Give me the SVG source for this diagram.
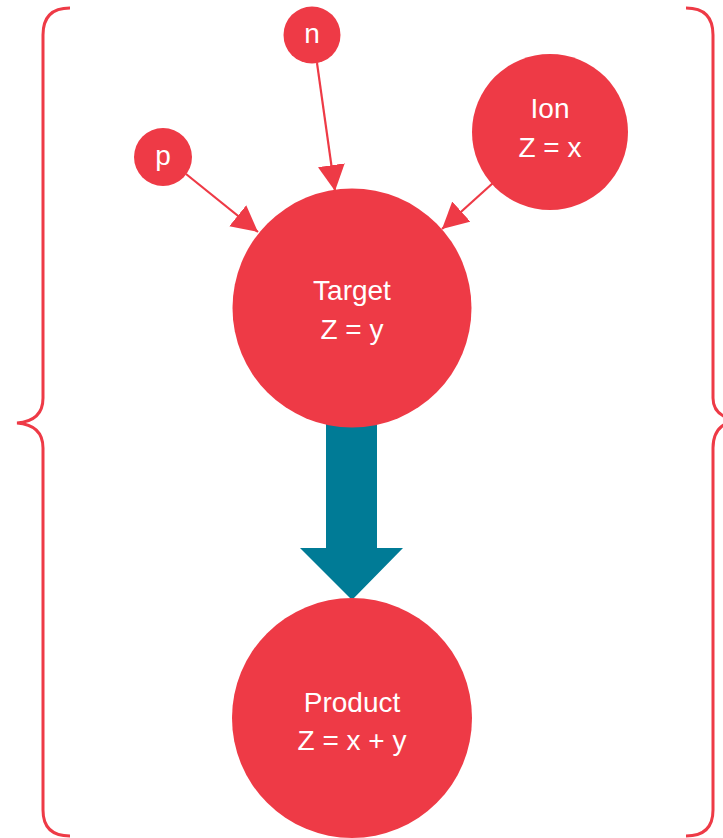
<svg xmlns="http://www.w3.org/2000/svg" width="723" height="838" viewBox="0 0 723 838">
<style>
.node{fill:#EE3A46}
.lbl{fill:#fff;font-family:"Liberation Sans",Arial,sans-serif;font-size:28px;text-anchor:middle}
.brace{fill:none;stroke:#EE3A46;stroke-width:3}
.conn{stroke:#EE3A46;stroke-width:2.2;fill:none}
</style>
<defs>
<marker id="ah" markerUnits="userSpaceOnUse" markerWidth="30" markerHeight="30" refX="26" refY="13.5" orient="auto">
<path d="M0,0 L26,13.5 L0,27 Z" fill="#EE3A46"/>
</marker>
</defs>
<g id="braces">
<path class="brace" d="M70,8 Q43,8 43,35 L43,398 Q43,421 17,423 Q43,425 43,448 L43,810 Q43,836 70,836"/>
<path class="brace" d="M686,8 Q713,8 713,35 L713,398 Q713,418 740,420 Q713,422 713,448 L713,810 Q713,836 686,836"/>
</g>
<g id="connectors">
<path class="conn" d="M186,174 L258,232" marker-end="url(#ah)"/>
<path class="conn" d="M317,63 L335,191" marker-end="url(#ah)"/>
<path class="conn" d="M493,183 L442,229" marker-end="url(#ah)"/>
<path d="M326,400 L377,400 L377,548 L403,548 L352,600 L300,548 L326,548 Z" fill="#007B96"/>
</g>
<g id="n"><circle class="node" cx="312" cy="35" r="28.5"/><text class="lbl" x="312" y="43">n</text></g>
<g id="p"><circle class="node" cx="163" cy="157" r="29"/><text class="lbl" x="163" y="165">p</text></g>
<g id="ion"><circle class="node" cx="550" cy="132" r="78"/><text class="lbl" x="550" y="118">Ion</text><text class="lbl" x="550" y="157">Z = x</text></g>
<g id="target"><circle class="node" cx="352" cy="308" r="119.5"/><text class="lbl" x="352" y="300">Target</text><text class="lbl" x="352" y="339">Z = y</text></g>
<g id="product"><circle class="node" cx="352" cy="718" r="120"/><text class="lbl" x="352" y="712">Product</text><text class="lbl" x="352" y="750">Z = x + y</text></g>
</svg>
